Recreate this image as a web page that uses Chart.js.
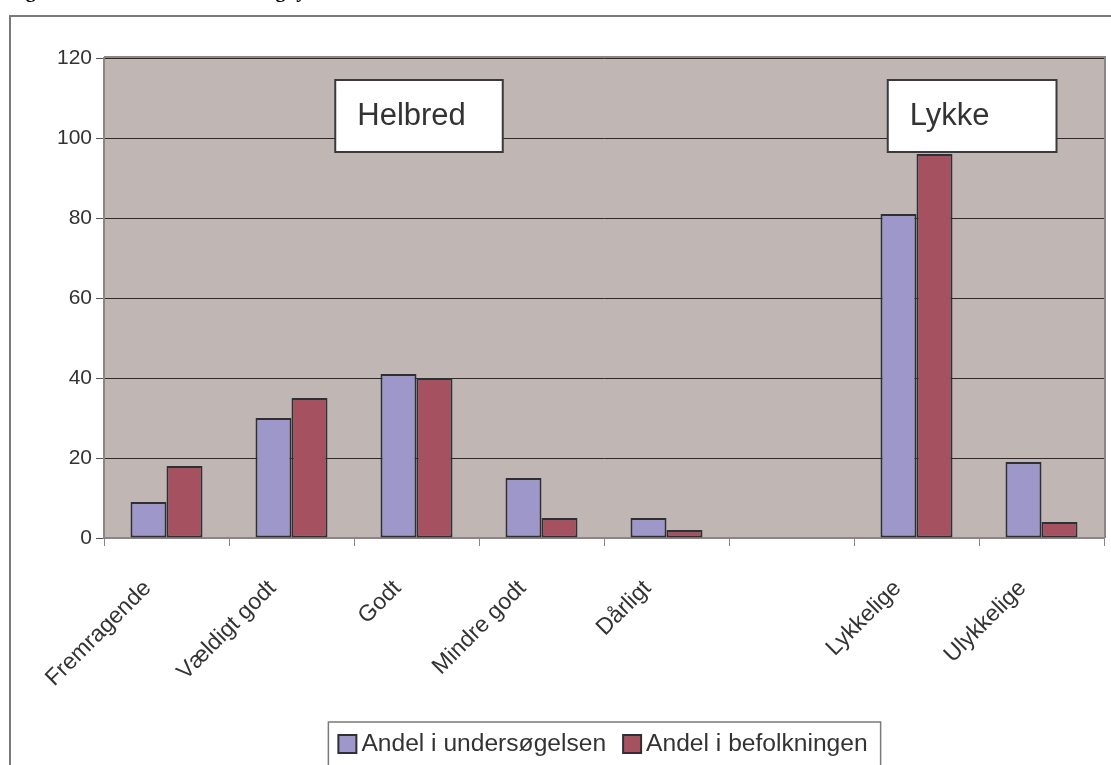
<!DOCTYPE html>
<html lang="da">
<head>
<meta charset="utf-8">
<title>Helbred og lykke</title>
<script src="https://cdn.jsdelivr.net/npm/chart.js@4"></script>
<style>
  html, body { margin: 0; padding: 0; background: #fff; overflow: hidden; }
  #wrap { position: absolute; left: 0; top: 0; width: 1125px; height: 800px; }
</style>
</head>
<body>
<div id="wrap"><canvas id="helbredChart"></canvas></div>
<script>
// categories on the x axis (empty slot separates the two groups)
const categories = ['Fremragende', 'Vældigt godt', 'Godt', 'Mindre godt', 'Dårligt', '', 'Lykkelige', 'Ulykkelige'];

// percentages
const andelUndersoegelsen = [9, 30, 41, 15, 5, null, 81, 19];
const andelBefolkningen = [18, 35, 40, 5, 2, null, 96, 4];

const seriesNames = ['Andel i undersøgelsen', 'Andel i befolkningen'];
const yMax = 120;
const yStep = 20;

const titleText = 'Figur 3. Selvvurderet helbred og lykke';

// group labels in white boxes (x in category units, y in value units)
const groupBoxes = [
    { text: 'Helbred', x0: 1.35, x1: 2.69, yTop: 114.5, yBottom: 96.5 },
    { text: 'Lykke', x0: 5.77, x1: 7.12, yTop: 114.5, yBottom: 96.5 }
];

const textColor = '#333333';
const axisGray = '#8c8584';
const fontFamily = '"Liberation Sans", Arial, sans-serif';

// plot background, frame, title, group boxes and the boxed legend
const decorPlugin = {
    id: 'decor',
    beforeDraw(chart) {
        const { ctx, chartArea: a, width, height } = chart;
        ctx.save();
        // outer frame
        ctx.strokeStyle = '#7a7a7a';
        ctx.lineWidth = 2;
        ctx.strokeRect(10, 16, width - 4, height);
        // plot area fill
        ctx.fillStyle = '#c0b7b4';
        ctx.fillRect(a.left, a.top, a.right - a.left, a.bottom - a.top);
        // title, mostly above the top edge
        ctx.fillStyle = '#000';
        ctx.font = 'bold 20px "Liberation Serif", serif';
        ctx.textBaseline = 'alphabetic';
        ctx.textAlign = 'left';
        ctx.fillText(titleText, 8, -3);
        ctx.restore();
    },
    afterDraw(chart) {
        const { ctx, chartArea: a, scales } = chart;
        ctx.save();
        // plot area border top and right
        ctx.strokeStyle = axisGray;
        ctx.lineWidth = 2;
        ctx.beginPath();
        ctx.moveTo(a.left, a.top - 1);
        ctx.lineTo(a.right + 1, a.top - 1);
        ctx.lineTo(a.right + 1, a.bottom);
        ctx.stroke();

        // group label boxes
        groupBoxes.forEach(b => {
            const x0 = scales.x.getPixelForValue(b.x0);
            const x1 = scales.x.getPixelForValue(b.x1);
            const y0 = scales.y.getPixelForValue(b.yTop);
            const y1 = scales.y.getPixelForValue(b.yBottom);
            ctx.fillStyle = '#ffffff';
            ctx.fillRect(x0, y0, x1 - x0, y1 - y0);
            ctx.strokeStyle = '#3a3a3d';
            ctx.lineWidth = 2;
            ctx.strokeRect(x0, y0, x1 - x0, y1 - y0);
            ctx.fillStyle = textColor;
            ctx.font = '31px ' + fontFamily;
            ctx.textAlign = 'left';
            ctx.textBaseline = 'middle';
            ctx.fillText(b.text, x0 + 22, (y0 + y1) / 2);
        });

        // legend: small squares tight against the text, inside a box
        const ds = chart.data.datasets;
        ctx.font = '24.6px ' + fontFamily;
        const sw = 18, gapText = 5, gapItem = 17;
        const widths = ds.map(d => ctx.measureText(d.label).width);
        let total = 0;
        widths.forEach((w, i) => { total += sw + gapText + w + (i < widths.length - 1 ? gapItem : 0); });
        const cx = (a.left + a.right) / 2 - 1;
        const cy = 744;
        let x = cx - total / 2;
        ctx.strokeStyle = '#7a7a7a';
        ctx.lineWidth = 1.5;
        ctx.strokeRect(x - 10, 722, total + 23, 200);
        ds.forEach((d, i) => {
            ctx.fillStyle = d.backgroundColor;
            ctx.fillRect(x, cy - sw / 2, sw, sw);
            ctx.strokeStyle = d.borderColor;
            ctx.lineWidth = 2;
            ctx.strokeRect(x, cy - sw / 2, sw, sw);
            ctx.fillStyle = textColor;
            ctx.textAlign = 'left';
            ctx.textBaseline = 'middle';
            ctx.fillText(d.label, x + sw + gapText, cy);
            x += sw + gapText + widths[i] + gapItem;
        });
        ctx.restore();
    }
};

const chart = new Chart(document.getElementById('helbredChart'), {
    type: 'bar',
    data: {
        labels: categories,
        datasets: [{
            label: seriesNames[0],
            data: andelUndersoegelsen,
            backgroundColor: '#9d97ca',
            borderColor: '#2f2f35',
            borderWidth: 2,
            borderSkipped: false,
            categoryPercentage: 0.576,
            barPercentage: 1.0
        }, {
            label: seriesNames[1],
            data: andelBefolkningen,
            backgroundColor: '#a5515f',
            borderColor: '#2f2f35',
            borderWidth: 2,
            borderSkipped: false,
            categoryPercentage: 0.576,
            barPercentage: 1.0
        }]
    },
    options: {
        responsive: true,
        maintainAspectRatio: false,
        animation: false,
        layout: {
            padding: { left: 10, right: 21, top: 58, bottom: 79 }
        },
        scales: {
            x: {
                grid: {
                    drawOnChartArea: false,
                    drawTicks: true,
                    tickLength: 8,
                    tickColor: axisGray,
                    offset: true
                },
                border: { color: axisGray, width: 2 },
                ticks: {
                    color: textColor,
                    font: { family: fontFamily, size: 23 },
                    minRotation: 45,
                    maxRotation: 45,
                    autoSkip: false,
                    padding: 29,
                    labelOffset: -19
                },
                afterFit: (s) => { s.height = 183; }
            },
            y: {
                min: 0,
                max: yMax,
                ticks: {
                    stepSize: yStep,
                    color: textColor,
                    padding: 4,
                    font: { family: fontFamily, size: 21 }
                },
                grid: {
                    color: '#2b2b2b',
                    lineWidth: 1,
                    tickColor: '#555',
                    tickLength: 8
                },
                border: { color: axisGray, width: 2 },
                afterFit: (s) => { s.width = 94; }
            }
        },
        plugins: {
            legend: { display: false },
            tooltip: { enabled: false }
        }
    },
    plugins: [decorPlugin]
});
</script>
</body>
</html>
